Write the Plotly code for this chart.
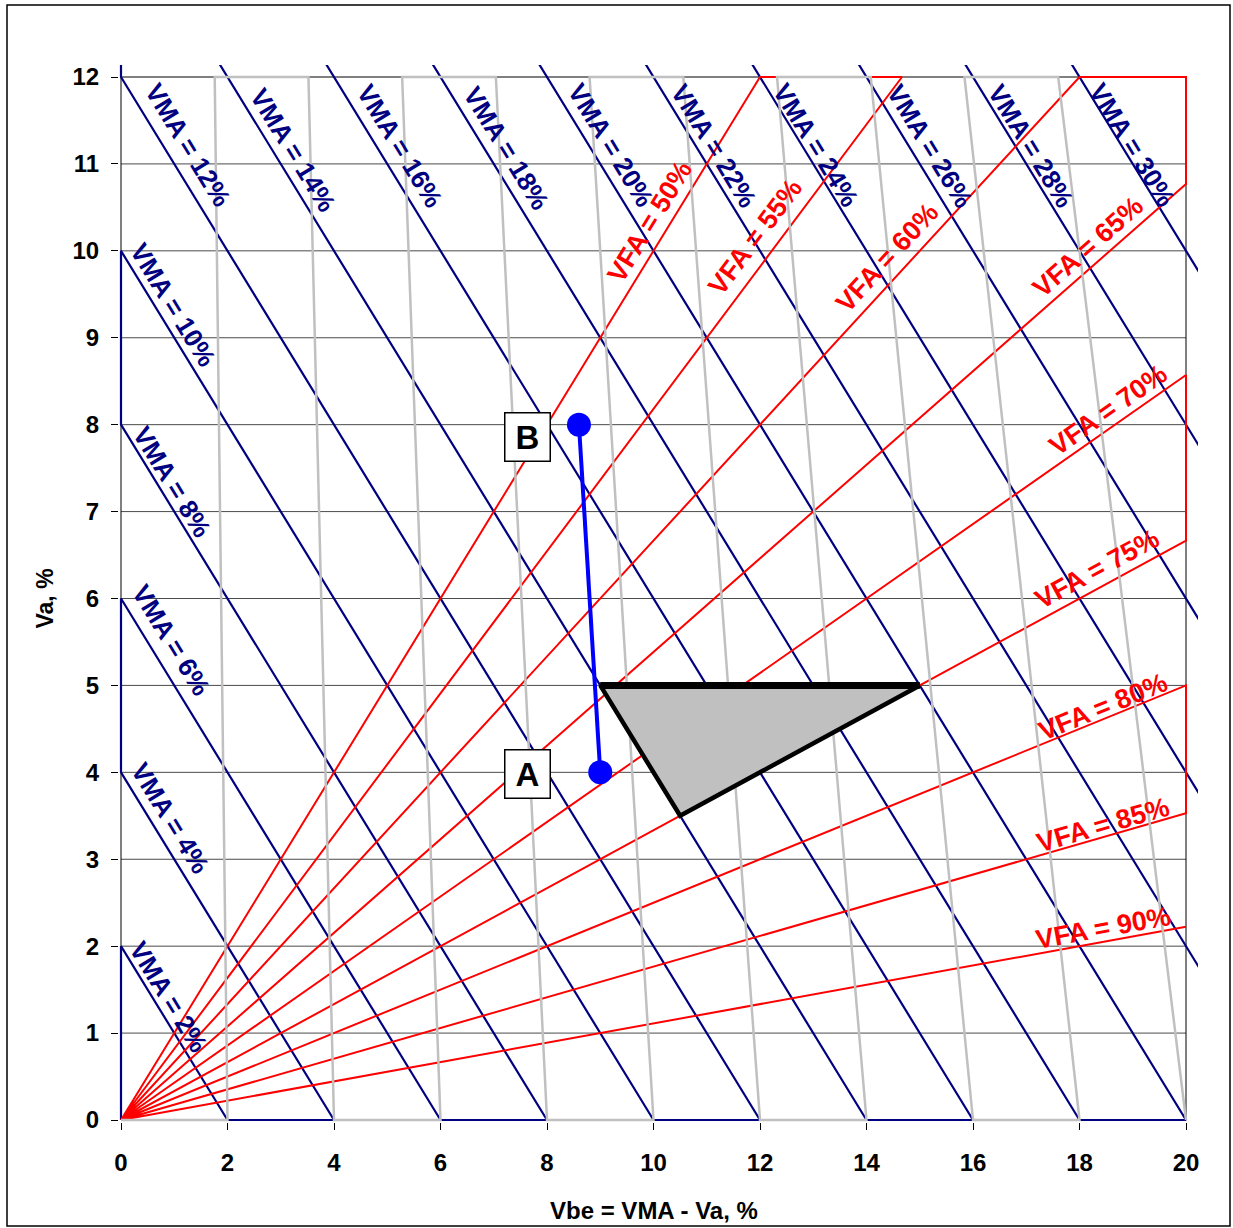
import math
import plotly.graph_objects as go

# ---------------- data ----------------
vma_values = [2, 4, 6, 8, 10, 12, 14, 16, 18, 20, 22, 24, 26, 28, 30]
vfa_values = [50, 55, 60, 65, 70, 75, 80, 85, 90]
vbe_gray = [2, 4, 6, 8, 10, 12, 14, 16, 18, 20]
va_top = 12
x_max = 20
polygon_x = [9, 15, 10.5, 9]
polygon_y = [5, 5, 3.5, 5]
pt_labels = ["A", "B"]
pt_x = [9.0, 8.6]
pt_y = [4.0, 8.0]
x_ticks = [0, 2, 4, 6, 8, 10, 12, 14, 16, 18, 20]
y_ticks = [0, 1, 2, 3, 4, 5, 6, 7, 8, 9, 10, 11, 12]

# ---------------- layout constants ----------------
W, H = 1233, 1228
ML, MR, MT, MB = 119, 35, 65, 106
PXX = 53.25      # px per x unit
PXY = 86.917     # px per y unit
x_range = [-2 / PXX, x_max + 12 / PXX]
y_range = [-2 / PXY, va_top + 12 / PXY]
FONT = "Liberation Sans, Arial, sans-serif"
NAVY = "#000080"
RED = "#ff0000"
GRAY = "#c0c0c0"

fig = go.Figure()

# gridlines
gx, gy = [], []
for t in y_ticks[1:-1]:
    gx += [0, x_max, None]
    gy += [t, t, None]
fig.add_trace(go.Scatter(x=gx, y=gy, mode="lines", line=dict(color="#4a4a4a", width=1),
                         hoverinfo="skip", showlegend=False))
# plot border
fig.add_trace(go.Scatter(x=[0, x_max, x_max, 0, 0], y=[0, 0, va_top, va_top, 0], mode="lines",
                         line=dict(color="#000000", width=1), hoverinfo="skip", showlegend=False))

# navy VMA zigzag
nx, ny = [0], [0]
for i, v in enumerate(vma_values):
    if i % 2 == 0:
        nx += [0, v]; ny += [v, 0]
    else:
        nx += [v, 0]; ny += [0, v]
fig.add_trace(go.Scatter(x=nx, y=ny, mode="lines", line=dict(color=NAVY, width=2.2),
                         hoverinfo="skip", showlegend=False))

# red VFA zigzag
def vfa_end(v):
    m = (100 - v) / v
    if x_max * m >= va_top:
        return (va_top / m, va_top)
    return (x_max, x_max * m)

rx, ry = [0], [0]
ends = [vfa_end(v) for v in vfa_values]
k = 0
while k < len(ends):
    e1 = ends[k]
    rx.append(e1[0]); ry.append(e1[1])
    if k + 1 < len(ends):
        e2 = ends[k + 1]
        if e1[1] == va_top and e2[0] == x_max and e2[1] != va_top:
            rx.append(x_max); ry.append(va_top)
        rx.append(e2[0]); ry.append(e2[1])
        if k + 2 < len(ends):
            rx.append(0); ry.append(0)
    k += 2
fig.add_trace(go.Scatter(x=rx, y=ry, mode="lines", line=dict(color=RED, width=2),
                         hoverinfo="skip", showlegend=False))

# gray zigzag
fac = (100 - va_top) / 100
sx, sy = [0], [0]
for i, c in enumerate(vbe_gray):
    if i % 2 == 0:
        sx += [c, c * fac]; sy += [0, va_top]
    else:
        sx += [c * fac, c]; sy += [va_top, 0]
fig.add_trace(go.Scatter(x=sx, y=sy, mode="lines", line=dict(color=GRAY, width=2.5),
                         hoverinfo="skip", showlegend=False))

# polygon
fig.add_trace(go.Scatter(x=polygon_x, y=polygon_y, mode="lines", fill="toself",
                         fillcolor="#c0c0c0", line=dict(color="#000000", width=4.5),
                         hoverinfo="skip", showlegend=False))
fig.add_trace(go.Scatter(x=polygon_x[:2], y=polygon_y[:2], mode="lines",
                         line=dict(color="#000000", width=7),
                         hoverinfo="skip", showlegend=False))

# A-B line
fig.add_trace(go.Scatter(x=pt_x, y=pt_y, mode="lines+markers",
                         line=dict(color="#0000ff", width=4),
                         marker=dict(color="#0000ff", size=24, symbol="circle"),
                         hoverinfo="skip", showlegend=False))

annotations = []
# VMA labels
vma_label_pos = {
    12: (1.26, 11.22), 14: (3.23, 11.16), 16: (5.24, 11.21), 18: (7.23, 11.18),
    20: (9.20, 11.22), 22: (11.14, 11.21), 24: (13.05, 11.22), 26: (15.19, 11.21),
    28: (17.09, 11.21), 30: (18.99, 11.22),
    10: (0.98, 9.38), 8: (0.96, 7.34), 6: (0.94, 5.52), 4: (0.92, 3.47), 2: (0.90, 1.42),
}
vma_angle = math.degrees(math.atan(PXY / PXX))
for v in vma_values:
    if v in vma_label_pos:
        lx, ly = vma_label_pos[v]
        annotations.append(dict(x=lx, y=ly, xref="x", yref="y", text=f"VMA = {v}%",
                                showarrow=False, textangle=vma_angle,
                                xanchor="center", yanchor="middle",
                                font=dict(family=FONT, size=26, color=NAVY, weight="bold")))
# VFA labels
vfa_label_pos = {
    50: (9.93, 10.33), 55: (11.91, 10.16), 60: (14.38, 9.92), 65: (18.16, 10.04),
    70: (18.54, 8.17), 75: (18.33, 6.34), 80: (18.44, 4.75), 85: (18.44, 3.39),
    90: (18.44, 2.21),
}
for v in vfa_values:
    lx, ly = vfa_label_pos[v]
    m = (100 - v) / v
    ang = -math.degrees(math.atan(m * PXY / PXX))
    annotations.append(dict(x=lx, y=ly, xref="x", yref="y", text=f"VFA = {v}%",
                            showarrow=False, textangle=ang,
                            xanchor="center", yanchor="middle",
                            font=dict(family=FONT, size=27, color=RED, weight="bold")))
# A / B boxes (placed left of their points)
label_box_pos = [(7.64, 3.98), (7.64, 7.86)]
for lab, (bx, by) in zip(pt_labels, label_box_pos):
    annotations.append(dict(x=bx, y=by, xref="x", yref="y", text=lab, showarrow=False,
                            xanchor="center", yanchor="middle",
                            width=44, height=47, borderpad=0, borderwidth=1.5,
                            bordercolor="#000000", bgcolor="#ffffff",
                            font=dict(family=FONT, size=33, color="#000000", weight="bold")))
# axis titles
plot_h = H - MT - MB
plot_w = W - ML - MR
annotations.append(dict(x=10, xref="x", y=(H - MB - 1210) / plot_h, yref="paper",
                        text="Vbe = VMA - Va, %", showarrow=False,
                        xanchor="center", yanchor="middle",
                        font=dict(family=FONT, size=24, color="#000000", weight="bold")))
annotations.append(dict(x=(44 - ML) / plot_w, xref="paper", y=6, yref="y",
                        text="Va, %", showarrow=False, textangle=-90,
                        xanchor="center", yanchor="middle",
                        font=dict(family=FONT, size=23, color="#000000", weight="bold")))

shapes = [dict(type="rect", xref="paper", yref="paper",
               x0=(7 - ML) / plot_w, x1=(1230 - ML) / plot_w,
               y0=(H - MB - 1226) / plot_h, y1=(H - MB - 5) / plot_h,
               line=dict(color="#000000", width=1.5), fillcolor="rgba(0,0,0,0)", layer="below")]

fig.update_layout(
    width=W, height=H, autosize=False,
    margin=dict(l=ML, r=MR, t=MT, b=MB, pad=0),
    paper_bgcolor="#ffffff", plot_bgcolor="#ffffff",
    showlegend=False,
    annotations=annotations,
    shapes=shapes,
    xaxis=dict(range=x_range, tickvals=x_ticks, ticktext=[str(t) for t in x_ticks],
               showgrid=False, zeroline=False, showline=False,
               ticks="outside", ticklen=7, tickcolor="#000000", tickwidth=1,
               ticklabelstandoff=12,
               tickfont=dict(family=FONT, size=24, color="#000000", weight="bold")),
    yaxis=dict(range=y_range, tickvals=y_ticks, ticktext=[str(t) for t in y_ticks],
               showgrid=False, zeroline=False, showline=False,
               ticks="outside", ticklen=7, tickcolor="#000000", tickwidth=1,
               ticklabelstandoff=7,
               tickfont=dict(family=FONT, size=24, color="#000000", weight="bold")),
)

fig.write_html("out.html")
